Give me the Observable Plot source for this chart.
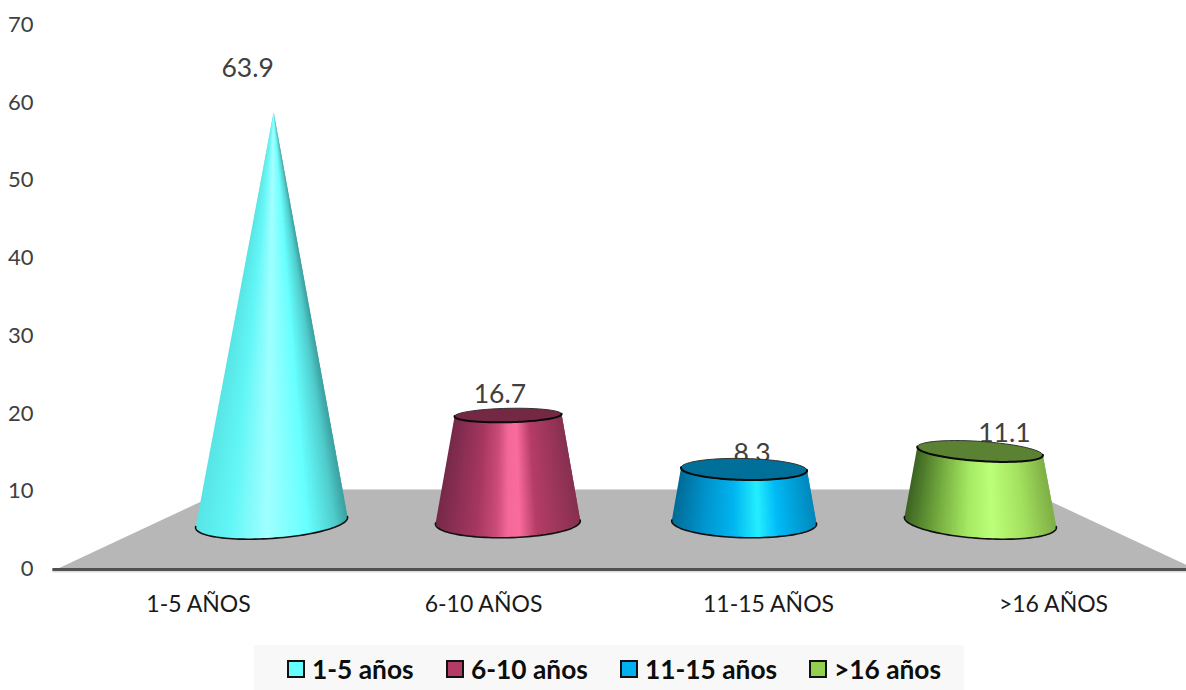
<!DOCTYPE html>
<html lang="es">
<head>
<meta charset="utf-8">
<title>Distribución por años</title>
<script src="https://cdn.jsdelivr.net/npm/d3@7"></script>
<script src="https://cdn.jsdelivr.net/npm/@observablehq/plot@0.6"></script>
<style>
  html, body { margin: 0; padding: 0; background: #fff; overflow: hidden; }
  #chart { position: absolute; left: 0; top: 0; width: 1186px; height: 645px; }
  #legend { position: absolute; left: 254px; top: 645px; width: 710px; height: 45px; background: #f8f8f8;
            font: 700 26.3px Lato, sans-serif; color: #0d0d0d; }
  .item { position: absolute; top: 1px; height: 45px; display: flex; align-items: center; white-space: nowrap; }
  .swatch { width: 14px; height: 14px; border: 2px solid #111; margin-right: 7px; }
</style>
</head>
<body>
<div id="chart"></div>
<div id="legend"></div>
<script>
// Chart values
const axisLabels = ["1-5 AÑOS", "6-10 AÑOS", "11-15 AÑOS", ">16 AÑOS"];
const legendLabels = ["1-5 años", "6-10 años", "11-15 años", ">16 años"];
const percentages = [63.9, 16.7, 8.3, 11.1];
const yTicks = [0, 10, 20, 30, 40, 50, 60, 70];

// Colours
const swatchColors = ["#66ffff", "#b33c66", "#00b0f0", "#92d050"];
const capColors = ["#3ba0a0", "#752843", "#006f99", "#5b8232"];
const shading = [
  [[0, "#58e4e4"], [0.22, "#62f6f6"], [0.47, "#a0ffff"], [0.74, "#66ffff"], [0.92, "#50cccc"], [1, "#3c9f9f"]],
  [[0, "#76294a"], [0.28, "#a6375f"], [0.42, "#cc4c78"], [0.5, "#f4689a"], [0.58, "#f96b9c"], [0.7, "#b53d67"], [1, "#86304f"]],
  [[0, "#006c96"], [0.2, "#0092cb"], [0.42, "#00b4f0"], [0.6, "#24eeff"], [0.74, "#00baf6"], [1, "#0088bc"]],
  [[0, "#3c6422"], [0.22, "#76ae40"], [0.42, "#a6ea64"], [0.58, "#bcff78"], [0.8, "#a2e05e"], [1, "#7fae46"]]
];

// Perspective of the 3D scene, in data units
const centre = 1.5;             // vanishing column on the category axis
const floorFront = 2;           // half width of the floor at the front edge
const floorBack = 1.4;          // half width of the floor at the back edge
const floorDepth = 10.3;        // height of the back edge on the value axis
const coneSpread = 0.829;       // how far the cones' columns are pulled towards the centre
const coneConverge = 0.000073;  // extra pull towards the centre per unit of height
const coneDepth = 0.826;        // vertical scale of the plane the cones stand on
const coneLift = 6.05;          // height of that plane on the value axis
const labelDepth = 0.885;
const labelScale = 0.89;
const labelLift = 7.6;
const xPx = 285, yPx = 544 / 70; // scale factors, used to keep ellipses round on screen
const maxValue = d3.max(percentages);
const sliceCount = 80;

const category = (i, v) => centre + (coneSpread - coneConverge * v) * (i - centre);
const height = v => coneLift + coneDepth * v;
const radius = (i, v) => (0.2526 + 0.0063 * (i - centre) ** 2) * (1 - v / maxValue);

// One point of the circular section of cone i at value v
function ring(i, v, t) {
  const r = radius(i, v);
  const rPx = r * xPx;
  const flatten = 0.21 - 0.0048 * v;
  const lean = -0.044 * (i - centre);
  return {
    x: category(i, v) + r * Math.cos(t),
    y: height(v) + (rPx / yPx) * (lean * Math.cos(t) - flatten * Math.sin(t))
  };
}
const arc = (i, v, t0, t1) => d3.range(61).map(k => ring(i, v, t0 + (t1 - t0) * k / 60));

const floor = [
  {x: centre - floorFront, y: 0},
  {x: centre + floorFront, y: 0},
  {x: centre + floorBack, y: floorDepth},
  {x: centre - floorBack, y: floorDepth}
];

// The side of a cone as narrow slices running from base to top, so the shading
// converges with the taper. Each slice overlaps the next to hide the joins.
function slices(i, v) {
  const shade = d3.scaleLinear(shading[i].map(s => s[0]), shading[i].map(s => s[1])).interpolate(d3.interpolateRgb);
  return d3.range(sliceCount).flatMap(k => {
    const t0 = Math.acos(2 * k / sliceCount - 1);
    const t1 = Math.acos(2 * Math.min(k + 2, sliceCount) / sliceCount - 1);
    const color = shade((k + 0.5) / sliceCount);
    return [ring(i, 0, t0), ring(i, 0, t1), ring(i, v, t1), ring(i, v, t0)]
      .map(p => ({...p, slice: k, color}));
  });
}

const coneMarks = percentages.flatMap((v, i) => {
  const marks = [
    Plot.line(slices(i, v), {
      x: "x", y: "y", z: "slice", curve: "linear-closed",
      fill: {value: "color", scale: null},
      stroke: "none"
    }),
    Plot.line(arc(i, 0, -0.06, Math.PI + 0.06), {x: "x", y: "y", stroke: "#111", strokeWidth: 1.6})
  ];
  if (v < maxValue) {
    marks.push(
      Plot.line(arc(i, v, 0, 2 * Math.PI), {x: "x", y: "y", curve: "linear-closed", fill: capColors[i], stroke: "#333", strokeWidth: 1}),
      Plot.line(arc(i, v, -0.05, Math.PI + 0.05), {x: "x", y: "y", stroke: "#0a0a0a", strokeWidth: 2})
    );
  }
  return marks;
});

const chart = Plot.plot({
  width: 1186,
  height: 645,
  marginTop: 25,
  marginBottom: 76,
  marginLeft: 36,
  marginRight: 0,
  style: {fontFamily: "Lato, sans-serif", background: "transparent"},
  x: {domain: [-0.5, 3.5], range: [55.5, 1195.5], axis: null},
  y: {domain: [0, 70], axis: null},
  marks: [
    Plot.line(floor, {x: "x", y: "y", curve: "linear-closed", fill: "#b7b7b7", stroke: "none"}),
    Plot.ruleY([0], {x1: -0.511, x2: 3.5, dy: 2, stroke: "#dcdcdc", strokeWidth: 2}),
    Plot.ruleY([0], {x1: -0.511, x2: 3.5, stroke: "#505050", strokeWidth: 3}),
    Plot.axisY({ticks: yTicks, tickSize: 0, tickPadding: 3, fontSize: 22, color: "#404040", label: null, dy: -0.5}),
    Plot.axisX({ticks: [0, 1, 2, 3], tickFormat: i => axisLabels[i], tickSize: 0, tickPadding: 26, fontSize: 23, color: "#1a1a1a", label: null}),
    // Value labels sit behind the cones, whose caps overlap the shortest ones
    Plot.text(percentages, {
      x: (v, i) => centre + labelDepth * (i - centre),
      y: v => labelLift + labelScale * v,
      text: v => v.toFixed(1),
      fontSize: 26.5,
      fill: "#404040",
      lineAnchor: "middle"
    }),
    ...coneMarks
  ]
});
document.getElementById("chart").append(chart);

// Legend strip under the plot
const legendLeft = [33, 192, 366, 555];
const legend = d3.select("#legend");
legendLabels.forEach((label, i) => {
  const item = legend.append("div").attr("class", "item").style("left", legendLeft[i] + "px");
  item.append("span").attr("class", "swatch").style("background", swatchColors[i]);
  item.append("span").text(label);
});
</script>
</body>
</html>
